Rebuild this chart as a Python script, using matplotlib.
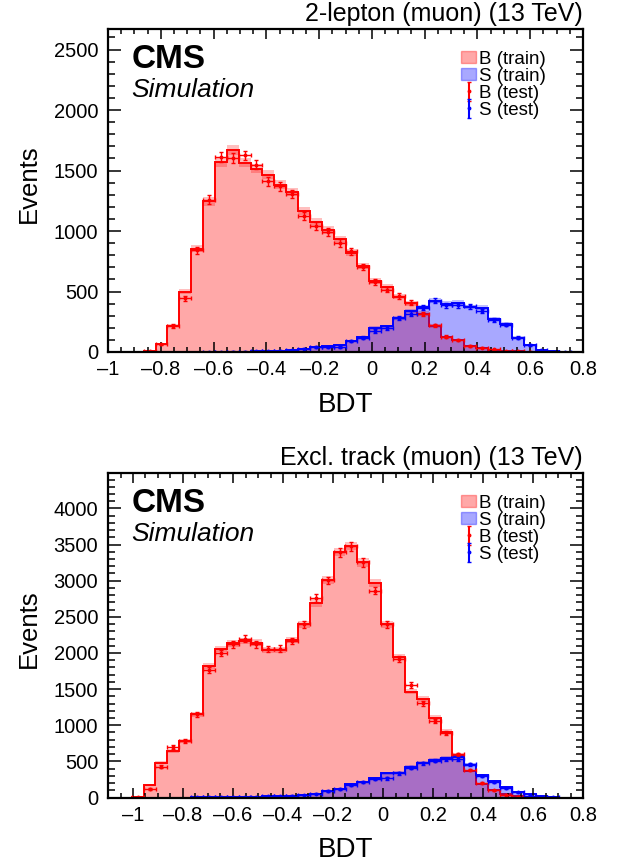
import numpy as np
import matplotlib.pyplot as plt
from matplotlib.ticker import MultipleLocator
from matplotlib.patches import Patch

plt.rcParams['font.family'] = ['Liberation Sans', 'DejaVu Sans']

# ---- data: top panel, 2-lepton (muon), 40 bins in [-1, 0.8]
top_range = (-1.0, 0.8)
top_b_train = [0, 0, 0, 8, 70, 219, 498, 855, 1246, 1570,
               1672, 1565, 1515, 1466, 1383, 1323, 1163, 1075, 1010, 932,
               820, 710, 587, 535, 456, 404, 318, 215, 125, 97,
               50, 36, 20, 8, 5, 3, 0, 0, 0, 0]
top_b_test = [0, 0, 0, 5, 62, 215, 445, 843, 1260, 1610,
              1605, 1625, 1548, 1411, 1370, 1306, 1124, 1042, 990, 902,
              833, 704, 580, 516, 463, 406, 314, 220, 128, 97,
              49, 36, 21, 9, 5, 3, 0, 0, 0, 0]
top_s_train = [0, 0, 0, 0, 0, 0, 0, 0, 2, 2,
               3, 4, 5, 8, 10, 14, 28, 42, 50, 55,
               89, 124, 199, 212, 284, 339, 373, 422, 400, 408,
               373, 367, 276, 235, 119, 55, 20, 5, 1, 0]
top_s_test = [0, 0, 0, 0, 0, 0, 0, 0, 2, 2,
              3, 4, 5, 8, 10, 14, 28, 42, 42, 42,
              89, 118, 173, 199, 281, 317, 367, 422, 387, 387,
              378, 337, 268, 226, 119, 55, 14, 3, 1, 0]

# ---- data: bottom panel, Excl. track (muon), 40 bins in [-1.1, 0.8]
bot_range = (-1.1, 0.8)
bot_b_train = [0, 0, 3, 173, 482, 644, 782, 1152, 1821, 2052,
               2135, 2167, 2144, 2043, 2043, 2181, 2399, 2689, 3012, 3400,
               3478, 3252, 2966, 2399, 1941, 1466, 1364, 1106, 912, 589,
               367, 192, 100, 44, 14, 4, 0, 0, 0, 0]
bot_b_test = [0, 0, 3, 120, 427, 704, 782, 1152, 1766, 1997,
              2121, 2200, 2121, 2052, 2061, 2167, 2399, 2759, 3003, 3391,
              3474, 3252, 2864, 2399, 1914, 1558, 1304, 1060, 889, 597,
              381, 205, 100, 35, 12, 4, 0, 0, 0, 0]
bot_s_train = [0, 0, 0, 0, 0, 0, 0, 1, 2, 3,
               4, 6, 10, 17, 21, 25, 35, 50, 92, 120,
               182, 215, 265, 335, 344, 427, 482, 519, 550, 566,
               450, 312, 230, 141, 81, 42, 14, 2, 0, 0]
bot_s_test = [0, 0, 0, 0, 0, 0, 0, 1, 2, 3,
              4, 6, 10, 17, 21, 25, 35, 50, 92, 114,
              175, 210, 260, 265, 335, 413, 473, 510, 530, 533,
              459, 298, 219, 136, 71, 25, 8, 1, 0, 0]

panels = [
    dict(rng=top_range, b_train=top_b_train, b_test=top_b_test,
         s_train=top_s_train, s_test=top_s_test,
         title="2-lepton (muon) (13 TeV)", ymax=2670, xticks=np.arange(-1.0, 0.81, 0.2)),
    dict(rng=bot_range, b_train=bot_b_train, b_test=bot_b_test,
         s_train=bot_s_train, s_test=bot_s_test,
         title="Excl. track (muon) (13 TeV)", ymax=4490, xticks=np.arange(-1.0, 0.81, 0.2)),
]

RED = '#ff0000'
BLUE = '#0000ff'
ALPHA = 0.34

fig = plt.figure(figsize=(6.2, 8.67), dpi=100)
W, H = 620, 867
boxes = [(108, 29, 583, 352), (108, 473, 583, 797.5)]

for p, (x0, y0, x1, y1) in zip(panels, boxes):
    ax = fig.add_axes([x0 / W, 1 - y1 / H, (x1 - x0) / W, (y1 - y0) / H])
    edges = np.linspace(p['rng'][0], p['rng'][1], 41)
    centers = 0.5 * (edges[1:] + edges[:-1])
    half = 0.5 * (edges[1] - edges[0])

    # training samples: filled histograms with a light stat band
    for train, col in [(p['b_train'], RED), (p['s_train'], BLUE)]:
        tr = np.array(train, float)
        err = np.sqrt(tr)
        ax.stairs(tr, edges, fill=True, color=col, alpha=ALPHA, lw=0)
        ax.stairs(tr + err, edges, baseline=tr - err, fill=True, color=col, alpha=0.25, lw=0)
        ax.stairs(tr, edges, color=col, lw=1.4)

    # test samples: points with errors
    for test, col in [(p['b_test'], RED), (p['s_test'], BLUE)]:
        te = np.array(test, float)
        m = te > 0
        ax.errorbar(centers[m], te[m], xerr=half, yerr=np.sqrt(te[m]), fmt='o', ms=1.8,
                    color=col, ecolor=col, elinewidth=1.0, capsize=1.3, capthick=1.0)

    ax.set_xlim(*p['rng'])
    ax.set_ylim(0, p['ymax'])
    ax.set_xticks(p['xticks'])
    ax.set_xticklabels(['0' if abs(t) < 1e-9 else ('%g' % t).replace('-', '\u2013') for t in p['xticks']])
    ax.xaxis.set_minor_locator(MultipleLocator(0.05))
    ax.yaxis.set_major_locator(MultipleLocator(500))
    ax.yaxis.set_minor_locator(MultipleLocator(100))
    ax.tick_params(which='both', direction='in', top=True, right=True, labelsize=14.5, width=1.1)
    ax.tick_params(axis='x', which='major', length=7.5, pad=6)
    ax.tick_params(axis='x', which='minor', length=3.8)
    ax.tick_params(axis='y', which='major', length=9.5, pad=7)
    ax.tick_params(axis='y', which='minor', length=5)
    for s in ax.spines.values():
        s.set_linewidth(1.6)

    ax.set_xlabel('BDT', fontsize=20, labelpad=9)
    ax.set_ylabel('Events', fontsize=18.5)
    ax.yaxis.set_label_coords(-0.142, 0.52)
    ax.text(1.0, 1.025, p['title'], transform=ax.transAxes, ha='right', va='baseline', fontsize=18)
    ax.text(0.05, 0.88, 'CMS', transform=ax.transAxes, fontsize=24, fontweight='bold', va='baseline')
    ax.text(0.05, 0.79, 'Simulation', transform=ax.transAxes, fontsize=19, fontstyle='italic', va='baseline')

    handles = [
        Patch(facecolor=RED, alpha=ALPHA, edgecolor=RED),
        Patch(facecolor=BLUE, alpha=ALPHA, edgecolor=BLUE),
        ax.errorbar([np.nan], [np.nan], yerr=[1], fmt='o', ms=1.8, color=RED, capsize=1.3),
        ax.errorbar([np.nan], [np.nan], yerr=[1], fmt='o', ms=1.8, color=BLUE, capsize=1.3),
    ]
    ax.legend(handles, ['B (train)', 'S (train)', 'B (test)', 'S (test)'],
              loc='upper right', bbox_to_anchor=(0.942, 0.962), frameon=False,
              fontsize=13.5, handlelength=0.8, handleheight=0.65, handletextpad=0.15,
              labelspacing=0.0, borderpad=0)

fig.savefig('out.png', dpi=100)
